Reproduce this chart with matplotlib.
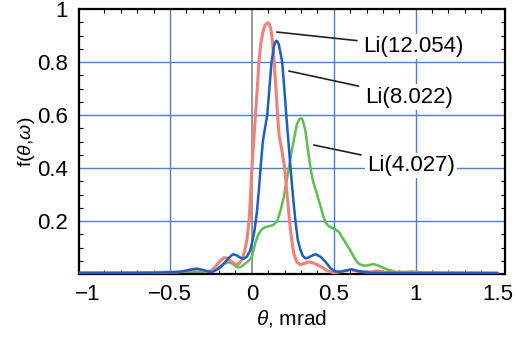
import matplotlib
matplotlib.use("Agg")
import matplotlib.pyplot as plt
from matplotlib.ticker import MultipleLocator

plt.rcParams['font.family'] = ['Liberation Sans', 'DejaVu Sans']
plt.rcParams['mathtext.fontset'] = 'custom'
plt.rcParams['mathtext.rm'] = 'Liberation Sans'
plt.rcParams['mathtext.it'] = 'Liberation Sans:italic'

# Li(12.054) - red
theta_red = [-1.05, -0.8, -0.6, -0.45, -0.40, -0.37, -0.34, -0.31, -0.28, -0.25, -0.22,
             -0.19, -0.17, -0.15, -0.13, -0.10, -0.08, -0.06, -0.045, -0.03, -0.017,
             -0.008, 0.0, 0.012, 0.022, 0.033, 0.043, 0.055, 0.068, 0.08, 0.09, 0.098,
             0.106, 0.116, 0.125, 0.136, 0.147, 0.157, 0.167, 0.185, 0.20, 0.215, 0.23,
             0.243, 0.256, 0.275, 0.295, 0.32, 0.348, 0.375, 0.40, 0.43, 0.46, 0.50, 0.55,
             0.60, 0.65, 0.72, 0.76, 0.82, 1.0, 1.5]
f_red = [0.004, 0.004, 0.006, 0.008, 0.012, 0.018, 0.02, 0.015, 0.01, 0.012, 0.03,
         0.052, 0.062, 0.06, 0.05, 0.036, 0.038, 0.055, 0.085, 0.13, 0.2,
         0.3, 0.4, 0.506, 0.6, 0.7, 0.8, 0.87, 0.915, 0.938, 0.946, 0.948,
         0.944, 0.925, 0.88, 0.8, 0.7, 0.6, 0.52, 0.46, 0.4, 0.3, 0.2,
         0.13, 0.078, 0.045, 0.036, 0.04, 0.046, 0.042, 0.035, 0.025, 0.012, 0.005, 0.01,
         0.016, 0.01, 0.008, 0.012, 0.006, 0.005, 0.004]

# Li(8.022) - blue
theta_blue = [-1.05, -0.6, -0.45, -0.40, -0.36, -0.33, -0.30, -0.27, -0.24, -0.20, -0.17,
              -0.14, -0.115, -0.09, -0.07, -0.05, -0.03, -0.01, 0.0, 0.015, 0.03, 0.042,
              0.053, 0.067, 0.08, 0.094, 0.107, 0.12, 0.135, 0.143, 0.15, 0.158, 0.165,
              0.185, 0.198, 0.21, 0.223, 0.236, 0.25, 0.266, 0.28, 0.297, 0.312, 0.327,
              0.345, 0.36, 0.39, 0.42, 0.45, 0.48, 0.51, 0.54, 0.57, 0.61, 0.66, 0.72,
              1.0, 1.5]
f_blue = [0.005, 0.005, 0.008, 0.013, 0.018, 0.02, 0.016, 0.01, 0.008, 0.022, 0.04,
          0.062, 0.075, 0.07, 0.062, 0.058, 0.066, 0.09, 0.115, 0.16, 0.23, 0.31,
          0.40, 0.5, 0.55, 0.6, 0.7, 0.8, 0.86, 0.875, 0.88, 0.876, 0.865,
          0.8, 0.7, 0.6, 0.5, 0.4, 0.3, 0.2, 0.13, 0.09, 0.068, 0.06,
          0.062, 0.068, 0.075, 0.065, 0.046, 0.022, 0.01, 0.009, 0.013, 0.018, 0.01, 0.005,
          0.004, 0.004]

# Li(4.027) - green
theta_green = [-1.05, -0.6, -0.4, -0.3, -0.24, -0.21, -0.18, -0.146, -0.12, -0.1, -0.085,
               -0.065, -0.04, -0.02, 0.0, 0.022, 0.04, 0.06, 0.08, 0.10, 0.13, 0.155, 0.175,
               0.195, 0.21, 0.226, 0.24, 0.256, 0.275, 0.29, 0.30, 0.31, 0.327, 0.342,
               0.358, 0.373, 0.39, 0.405, 0.42, 0.435, 0.45, 0.47, 0.50, 0.53, 0.55, 0.575,
               0.60, 0.625, 0.65, 0.675, 0.70, 0.744, 0.78, 0.815, 0.85, 0.876, 0.93, 0.97,
               1.05, 1.5]
f_green = [0.003, 0.004, 0.006, 0.008, 0.012, 0.02, 0.035, 0.045, 0.04, 0.03, 0.025,
           0.028, 0.04, 0.05, 0.065, 0.12, 0.15, 0.168, 0.177, 0.18, 0.185, 0.2, 0.24,
           0.29, 0.345, 0.40, 0.455, 0.506, 0.565, 0.585, 0.588, 0.582, 0.54, 0.47,
           0.40, 0.35, 0.317, 0.285, 0.254, 0.22, 0.195, 0.18, 0.172, 0.16, 0.14, 0.115,
           0.09, 0.062, 0.04, 0.033, 0.032, 0.038, 0.03, 0.02, 0.013, 0.009, 0.008, 0.01,
           0.006, 0.004]

labels = ['Li(12.054)', 'Li(8.022)', 'Li(4.027)']
arrow_from = [(0.152, 0.913), (0.226, 0.766), (0.378, 0.487)]
text_at = [(0.68, 0.858), (0.69, 0.668), (0.705, 0.41)]

xticks = [-1, -0.5, 0, 0.5, 1, 1.5]
xticklabels = ['\u22121', '\u22120.5', '0', '0.5', '1', '1.5']
yticks = [0.2, 0.4, 0.6, 0.8, 1.0]
yticklabels = ['0.2', '0.4', '0.6', '0.8', '1']

fig = plt.figure(figsize=(5.15, 3.38), dpi=100)
ax = fig.add_axes([0.1534, 0.189, 0.8272, 0.7844])

grid_blue = '#4a7fd8'
for gx in [-0.5, 0.5, 1.0]:
    ax.axvline(gx, color=grid_blue, lw=1.0, zorder=0)
for gy in [0.2, 0.4, 0.6, 0.8]:
    ax.axhline(gy, color=grid_blue, lw=1.0, zorder=0)
ax.axvline(0, color='#888888', lw=1.2, zorder=0)

line_kw = dict(solid_joinstyle='round', solid_capstyle='round')
ax.plot(theta_green, f_green, color='#5cc04c', lw=1.8, zorder=2, **line_kw)
ax.plot(theta_red, f_red, color='#f28078', lw=2.2, zorder=3, **line_kw)
ax.plot(theta_blue, f_blue, color='#1c5fc4', lw=1.8, zorder=4, **line_kw)

for lab, xy, xyt in zip(labels, arrow_from, text_at):
    ax.annotate(lab, xy=xy, xytext=xyt, fontsize=16, va='center', ha='left',
                arrowprops=dict(arrowstyle='-', color='#222222', lw=1.2, shrinkA=3, shrinkB=0),
                bbox=dict(boxstyle='square,pad=0.1', fc='white', ec='none'), zorder=5)

ax.set_xlim(-1.055, 1.545)
ax.set_ylim(0, 1)
ax.set_xticks(xticks)
ax.set_xticklabels(xticklabels)
ax.set_yticks(yticks)
ax.set_yticklabels(yticklabels)
ax.xaxis.set_minor_locator(MultipleLocator(0.1))
ax.yaxis.set_minor_locator(MultipleLocator(0.05))
ax.tick_params(which='major', length=0, labelsize=16)
ax.tick_params(axis='x', which='major', pad=7)
ax.tick_params(axis='y', which='major', pad=8)
ax.tick_params(which='minor', direction='in', length=3, width=0.8,
               top=True, bottom=True, left=True, right=True)
for s in ax.spines.values():
    s.set_linewidth(1.6)

ax.set_xlabel(r'$\it{\theta}$, mrad', fontsize=15, labelpad=2)
ax.set_ylabel(r'f($\it{\theta}$,$\it{\omega}$)', fontsize=14, labelpad=0)

fig.savefig('out.png', dpi=100)
